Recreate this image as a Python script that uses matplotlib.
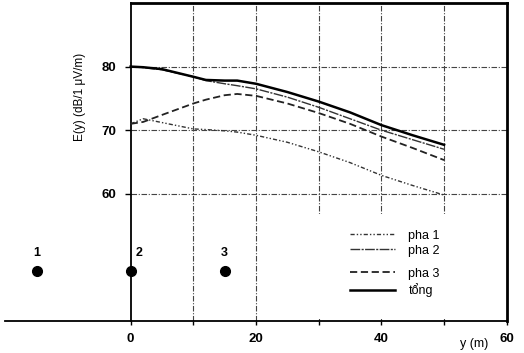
"""
Field strength E(y) of each phase and total vs distance y
"""

import numpy as np
import matplotlib
matplotlib.use('Agg')
import matplotlib.pyplot as plt
from matplotlib.patches import Rectangle

plt.rcParams['font.family'] = ['Liberation Sans', 'DejaVu Sans']

# distance (m)
y_m = [0, 2, 5, 10, 12, 15, 17, 20, 25, 30, 35, 40, 45, 50]

# E(y) in dB/1 uV/m
pha1 = [71.0, 71.8, 71.2, 70.2, 70.1, 69.9, 69.7, 69.2, 68.1, 66.6, 64.9, 62.9, 61.3, 59.8]
pha2 = [80.0, 79.85, 79.5, 78.4, 77.8, 77.3, 77.0, 76.5, 75.2, 73.6, 71.8, 70.0, 68.5, 67.0]
pha3 = [71.0, 71.3, 72.4, 74.2, 74.8, 75.5, 75.7, 75.4, 74.2, 72.7, 71.0, 69.0, 67.2, 65.3]
tong = [80.0, 79.9, 79.6, 78.4, 77.9, 77.8, 77.8, 77.3, 76.0, 74.5, 72.8, 70.8, 69.2, 67.7]

# conductor positions (phase 1, 2, 3)
cond_x = [-15, 0, 15]
cond_y = [47.8, 47.8, 47.8]
cond_lbl = ['1', '2', '3']

xticks = [0, 10, 20, 30, 40, 50, 60]
xtick_lbl = ['0', '', '20', '', '40', '', '60']
yticks = [60, 70, 80]

fig = plt.figure(figsize=(5.24, 3.53), dpi=100)
ax = fig.add_axes([0.0101, 0.0907, 0.957, 0.9008])
ax.set_xlim(-20, 60)
ax.set_ylim(40, 90)

# frame: y axis at 0, box only on the right part
ax.spines['top'].set_visible(False)
ax.spines['right'].set_visible(False)
ax.spines['left'].set_position(('data', 0))
ax.spines['left'].set_linewidth(1.3)
ax.spines['bottom'].set_linewidth(1.3)
ax.axhline(90, xmin=0.25, xmax=1, color='black', lw=2, clip_on=False, zorder=6)
ax.axvline(60, color='black', lw=2, clip_on=False, zorder=6)

# grid
grid_ls = (0, (5, 1.5, 1, 1.5))
ax.hlines(yticks, 0, 60, colors='#444444', linestyles=grid_ls, lw=0.8, zorder=1)
ax.vlines(xticks[1:-1], 40, 90, colors='#444444', linestyles=grid_ls, lw=0.8, zorder=1)
# blank area behind the legend
ax.add_patch(Rectangle((0.5625, 0.005), 0.43, 0.33, transform=ax.transAxes,
                       facecolor='white', edgecolor='none', zorder=2))

l1, = ax.plot(y_m, pha1, color='#333333', lw=1.0, ls=(0, (3, 1.5, 1, 1.5, 1, 1.5)), zorder=3)
l2, = ax.plot(y_m, pha2, color='#333333', lw=1.0, ls=(0, (7, 1, 1.5, 1)), zorder=3)
l3, = ax.plot(y_m, pha3, color='#222222', lw=1.3, ls=(0, (4, 2)), zorder=3)
l4, = ax.plot(y_m, tong, color='black', lw=1.8, zorder=4)

ax.plot(cond_x, cond_y, 'o', color='black', ms=7, zorder=5, clip_on=False)
for i in range(len(cond_x)):
    dx = 1.3 if cond_x[i] == 0 else 0
    ax.text(cond_x[i] + dx, cond_y[i] + 1.9, cond_lbl[i], ha='center', va='bottom',
            fontsize=9, fontweight='bold')

ax.set_xticks(xticks)
ax.set_xticklabels(xtick_lbl, fontweight='bold', fontsize=9.5)
ax.set_yticks(yticks)
ax.set_yticklabels([str(v) for v in yticks], fontweight='bold', fontsize=9.5)
ax.tick_params(axis='x', direction='out', length=3, width=1, pad=6)
ax.tick_params(axis='y', direction='out', length=4.5, width=1, pad=6)

ax.text(-8.1, 75.3, 'E(y) (dB/1 \u03bcV/m)', rotation=90, ha='center', va='center', fontsize=8.5)
ax.text(54.8, 36.4, 'y (m)', ha='center', va='center', fontsize=9, clip_on=False)

leg1 = ax.legend([l1, l2], ['pha 1', 'pha 2'], loc='upper left', bbox_to_anchor=(0.674, 0.307),
                 frameon=False, fontsize=9, handlelength=3.6, handletextpad=1.1,
                 labelspacing=0.25, borderpad=0)
ax.add_artist(leg1)
ax.legend([l3, l4], ['pha 3', 't\u1ed5ng'], loc='upper left', bbox_to_anchor=(0.674, 0.187),
          frameon=False, fontsize=9, handlelength=3.6, handletextpad=1.1,
          labelspacing=0.3, borderpad=0)

plt.savefig('out.png', dpi=100)
